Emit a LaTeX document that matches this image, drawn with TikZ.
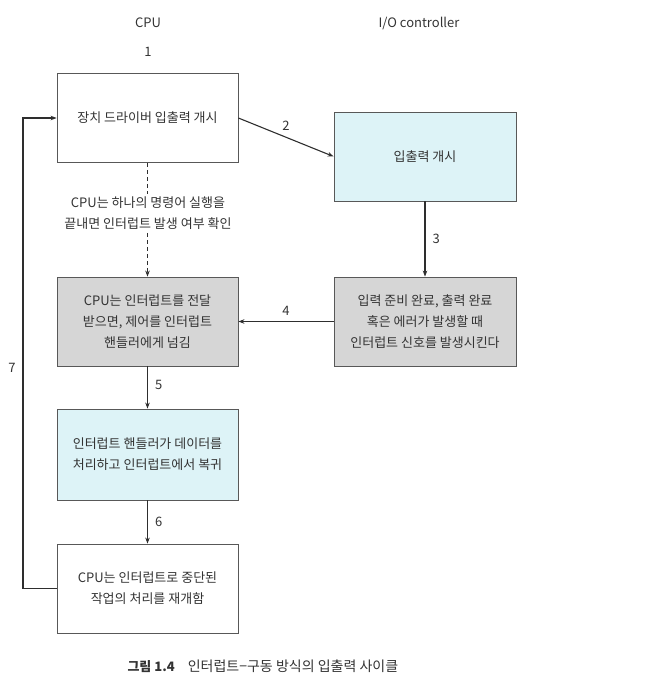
\documentclass[tikz,border=0pt]{standalone}
\usepackage{fontspec}
\setmainfont{Noto Sans CJK KR}
\usetikzlibrary{arrows.meta}
\definecolor{txt}{HTML}{333333}
\definecolor{ln}{HTML}{2E2E2E}
\definecolor{cyanbox}{HTML}{DDF3F7}
\definecolor{graybox}{HTML}{D6D6D6}
\begin{document}
\begin{tikzpicture}[x=1pt,y=-1pt,
  every node/.style={font=\fontsize{13}{21}\selectfont, text=txt},
  box/.style={draw=ln!80, line width=0.8pt, minimum width=181pt, minimum height=89pt, align=center, inner sep=2pt},
  wbox/.style={box, fill=white},
  cbox/.style={box, fill=cyanbox},
  gbox/.style={box, fill=graybox},
  conn/.style={draw=ln, line width=1.1pt, -{Stealth[length=6pt,width=4.5pt]}},
  lab/.style={font=\fontsize{13}{15}\selectfont, inner sep=1pt}]
\useasboundingbox (0,0) rectangle (651,688);
\node (cpu) at (148,23) {CPU};
\node (ioc) at (419,23) {I/O controller};
\node[lab] (l1) at (148,52) {1};
\node[wbox] (b1) at (147.5,118) {장치 드라이버 입출력 개시};
\node[cbox, minimum width=182pt] (b2) at (425,156.5) {입출력 개시};
\node[gbox] (b3) at (147.5,321.5) {CPU는 인터럽트를 전달\\받으면, 제어를 인터럽트\\핸들러에게 넘김};
\node[gbox, minimum width=182pt] (b4) at (425,321.5) {입력 준비 완료, 출력 완료\\혹은 에러가 발생할 때\\인터럽트 신호를 발생시킨다};
\node[cbox, minimum height=91pt] (b5) at (147.5,454.5) {인터럽트 핸들러가 데이터를\\처리하고 인터럽트에서 복귀};
\node[wbox] (b6) at (147.5,588.5) {CPU는 인터럽트로 중단된\\작업의 처리를 재개함};
\coordinate (loopx) at (23,0);
% connectors
\draw[conn] (b1.east) -- (b2.west) node[lab, pos=0.5, above=5pt] (l2) {2};
\draw[conn, dashed, dash pattern=on 4pt off 3pt] (b1.south) -- (b3.north);
\node[fill=white, inner sep=3pt, align=center] (dtxt) at (148,213) {CPU는 하나의 명령어 실행을\\끝내면 인터럽트 발생 여부 확인};
\draw[conn] (b2.south) -- (b4.north) node[lab, pos=0.5, right=6pt] (l3) {3};
\draw[conn] (b4.west) -- (b3.east) node[lab, pos=0.5, above=4pt] (l4) {4};
\draw[conn] (b3.south) -- (b5.north) node[lab, pos=0.45, right=6pt] (l5) {5};
\draw[conn] (b5.south) -- (b6.north) node[lab, pos=0.5, right=6pt] (l6) {6};
\draw[conn] (b6.west) -- (b6.west -| loopx) |- (b1.west);
\node[lab] (l7) at (12,368) {7};
\node[anchor=west, font=\fontsize{13}{15}\selectfont] (cap) at (124,666) {\textbf{그림 1.4}\hspace{13pt}{\fontsize{14}{15}\selectfont 인터럽트−구동 방식의 입출력 사이클}};
\end{tikzpicture}
\end{document}
